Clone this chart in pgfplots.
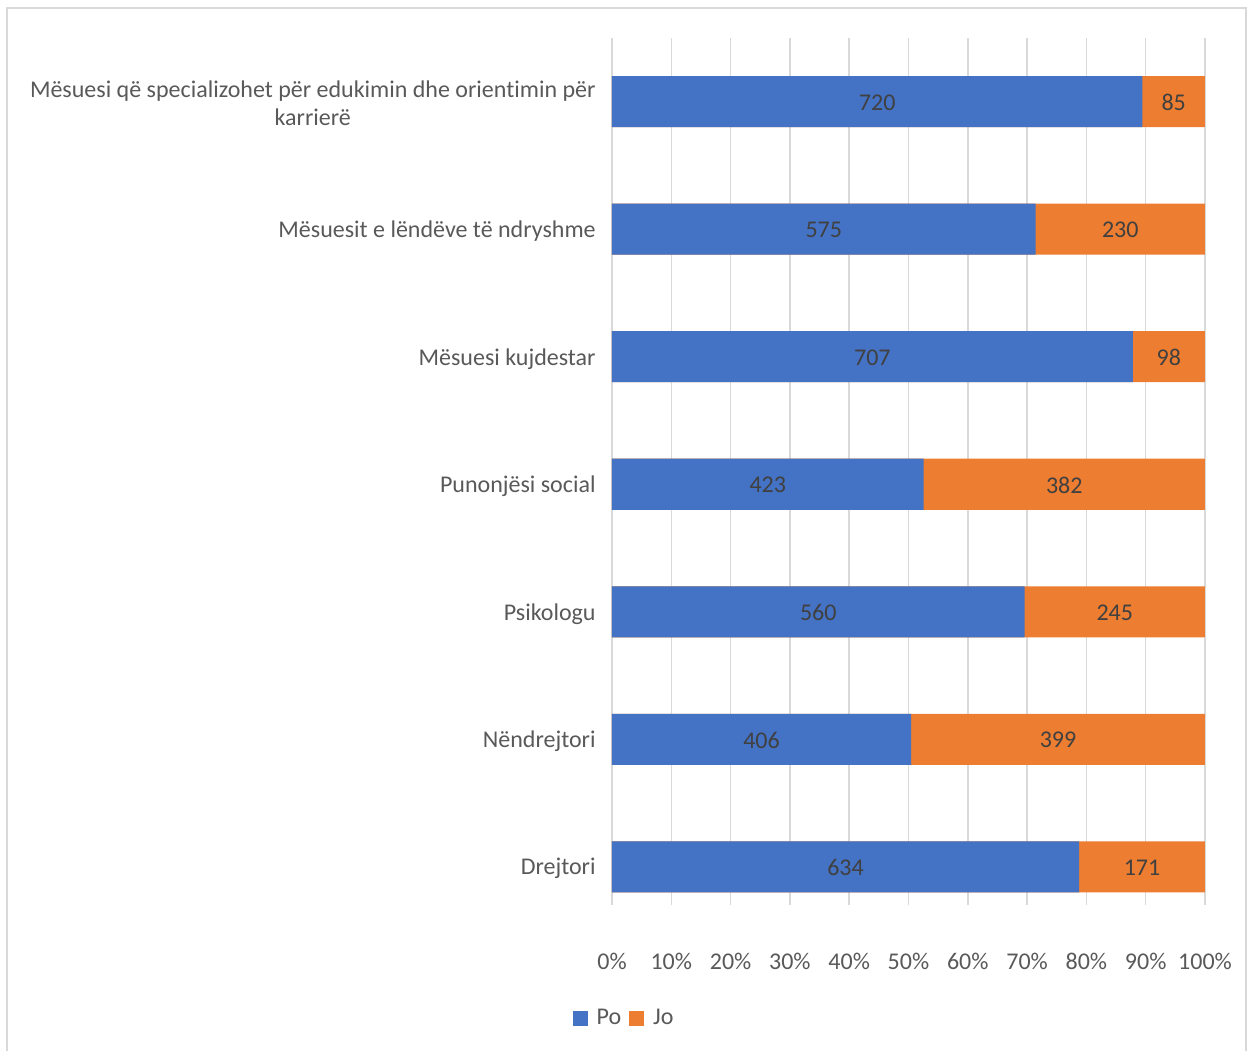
\documentclass[border=0pt]{standalone}
\usepackage{pgfplots}
\pgfplotsset{compat=1.18}
\usepackage{pgfplotstable}
\usepackage{fontspec}
\setmainfont{Carlito}[Ligatures=NoCommon]
\definecolor{cblue}{HTML}{4472C4}
\definecolor{corange}{HTML}{ED7D31}
\definecolor{ctext}{HTML}{595959}
\definecolor{cval}{HTML}{404040}
\definecolor{cgrid}{HTML}{D9D9D9}
\pgfplotstableread{
y po jo
6 720 85
5 575 230
4 707 98
3 423 382
2 560 245
1 406 399
0 634 171
}\data
\begin{document}
\fontsize{12}{14}\selectfont
\begin{tikzpicture}
\useasboundingbox (-306pt,-72.5pt) rectangle (317.5pt,452.5pt);
\draw[cgrid, line width=1pt] (-302.5pt,-90pt) -- (-302.5pt,448.5pt) -- (317pt,448.5pt) -- (317pt,-90pt);
\begin{axis}[
  scale only axis,
  width=296.5pt, height=433.5pt,
  at={(0,0)}, anchor=south west,
  xmin=0, xmax=805, ymin=-0.3, ymax=6.5,
  axis line style={draw=none},
  major tick style={draw=none},
  xmajorgrids, grid style={cgrid, line width=0.75pt},
  xtick={0,80.5,161,241.5,322,402.5,483,563.5,644,724.5,805},
  xticklabels={0\%,10\%,20\%,30\%,40\%,50\%,60\%,70\%,80\%,90\%,100\%},
  ytick={0,1,2,3,4,5,6},
  yticklabels={Drejtori,Nëndrejtori,Psikologu,Punonjësi social,Mësuesi kujdestar,Mësuesit e lëndëve të ndryshme,{Mësuesi që specializohet për edukimin dhe orientimin për\\karrierë}},
  /pgf/number format/assume math mode=true,
  xticklabel style={font=\fontsize{12}{14}\selectfont, text=ctext, yshift=-20pt},
  yticklabel style={font=\fontsize{12}{14}\selectfont, text=ctext, align=center, inner sep=0pt, xshift=-8pt, yshift=-1pt},
  legend style={at={(0.022,-0.1305)}, anchor=center, draw=none, legend columns=2,
    font=\fontsize{12}{14}\selectfont, text=ctext,
    /tikz/every even column/.append style={column sep=2pt}},
  legend image code/.code={\fill[#1, draw=none] (0pt,-3.75pt) rectangle (7.5pt,3.75pt);
    \path (10pt,0pt);},
  clip=false,
]
\addplot[xbar, bar width=0.4, bar shift=0pt, fill=corange, draw=none, forget plot]
  table[x expr=\thisrow{po}+\thisrow{jo}, y=y] {\data};
\addplot[xbar, bar width=0.4, bar shift=0pt, fill=cblue, draw=none, forget plot]
  table[x=po, y=y] {\data};
\addplot[draw=none, mark=none, forget plot, nodes near coords, point meta=explicit symbolic,
  nodes near coords style={anchor=center, text=cval, font=\fontsize{12}{14}\selectfont, yshift=-0.5pt}]
  table[x expr=\thisrow{po}/2, y=y, meta=po] {\data};
\addplot[draw=none, mark=none, forget plot, nodes near coords, point meta=explicit symbolic,
  nodes near coords style={anchor=center, text=cval, font=\fontsize{12}{14}\selectfont, yshift=-0.5pt}]
  table[x expr=\thisrow{po}+\thisrow{jo}/2, y=y, meta=jo] {\data};
\addlegendimage{fill=cblue, draw=none}
\addlegendentry{Po}
\addlegendimage{fill=corange, draw=none}
\addlegendentry{Jo}
\end{axis}
\end{tikzpicture}
\end{document}
